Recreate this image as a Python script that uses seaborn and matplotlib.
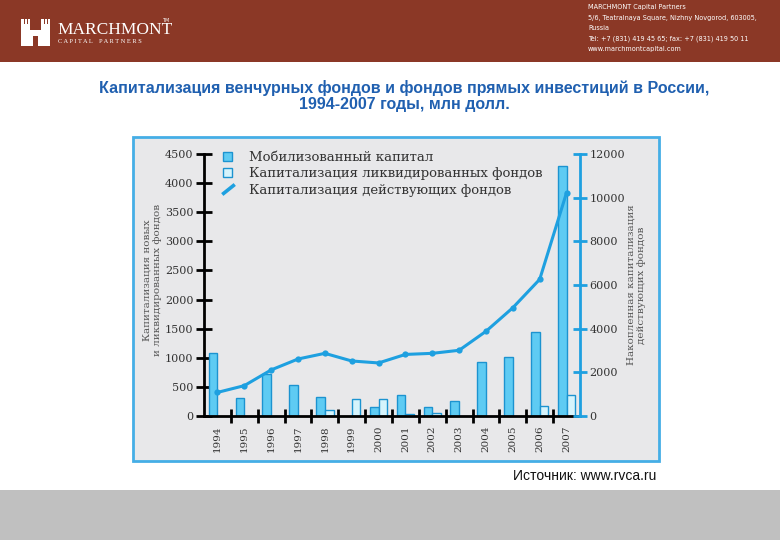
import numpy as np
import pandas as pd
import seaborn as sns
import matplotlib.pyplot as plt
from matplotlib.patches import Rectangle, Patch
from matplotlib.lines import Line2D
from matplotlib.path import Path
from matplotlib.ticker import FixedLocator

# ------------------------------------------------------------
# Data
# ------------------------------------------------------------
years = [str(y) for y in range(1994, 2008)]
mobilized = [1080, 310, 720, 530, 330, 0, 150, 360, 150, 250, 930, 1010, 1440, 4300]
liquidated = [0, 0, 0, 0, 100, 300, 290, 40, 50, 0, 0, 0, 170, 360]
active = [1080, 1390, 2110, 2610, 2870, 2520, 2430, 2820, 2870, 3010, 3880, 4960, 6260, 10230]

left_ticks = list(range(0, 4501, 500))
right_ticks = list(range(0, 12001, 2000))

series_names = [
    "Мобилизованный капитал",
    "Капитализация ликвидированных фондов",
    "Капитализация действующих фондов",
]
title = ("Капитализация венчурных фондов и фондов прямых инвестиций в России,\n"
         "1994-2007 годы, млн долл.")
left_label = "Капитализация новых\nи ликвидированных фондов"
right_label = "Накопленная капитализация\nдействующих фондов"
source = "Источник: www.rvca.ru"
header_lines = [
    "MARCHMONT Capital Partners",
    "5/6, Teatralnaya Square, Nizhny Novgorod, 603005,",
    "Russia",
    "Tel: +7 (831) 419 45 65; fax: +7 (831) 419 50 11",
    "www.marchmontcapital.com",
]

# colours
BROWN = "#8b3826"
MOB_FILL = "#5ecbf3"
LIQ_FILL = "#d6f4fc"
BAR_EDGE = "#1c93d0"
LINE_BLUE = "#1ea0e0"
TITLE_BLUE = "#2060b0"


def fx(px):
    return px / 780


def fy(py):
    return 1 - py / 540


sns.set_theme(style="white")
plt.rcParams["font.family"] = ["DejaVu Serif"]

fig = plt.figure(figsize=(7.8, 5.4), dpi=100)

# ------------------------------------------------------------
# Header / footer decoration
# ------------------------------------------------------------
fig.add_artist(Rectangle((0, fy(62)), 1, 62 / 540, transform=fig.transFigure,
                         fc=BROWN, ec="none", zorder=-2))
fig.add_artist(Rectangle((0, 0), 1, 50 / 540, transform=fig.transFigure,
                         fc="#c0c0c0", ec="none", zorder=-2))
fig.add_artist(Rectangle((fx(133), fy(461)), 526 / 780, 324 / 540,
                         transform=fig.transFigure, fc="#e8e8ea", ec="#45aee6",
                         lw=2, zorder=-1))

# castle logo, simple blocks
for (x0, y0, w, h) in [(21, 24, 9, 22), (41, 24, 9, 22), (30, 30, 11, 16),
                       (21, 19, 2.5, 5), (24.5, 19, 2.5, 5), (27.5, 19, 2.5, 5),
                       (41, 19, 2.5, 5), (44.5, 19, 2.5, 5), (47.5, 19, 2.5, 5)]:
    fig.add_artist(Rectangle((fx(x0), fy(y0 + h)), w / 780, h / 540,
                             transform=fig.transFigure, fc="white", ec="none"))
fig.add_artist(Rectangle((fx(33), fy(46)), 5 / 780, 10 / 540,
                         transform=fig.transFigure, fc=BROWN, ec="none"))
fig.text(fx(57), fy(30), "MARCHMONT", color="white", fontsize=12.5,
         family="Liberation Serif", va="center", ha="left")
fig.text(fx(58), fy(41.5), "C A P I T A L    P A R T N E R S", color="white",
         fontsize=4.6, family="Liberation Serif", va="center", ha="left")
fig.text(fx(162), fy(21), "TM", color="white", fontsize=3.5,
         family="DejaVu Sans", va="center", ha="left")

for i, line in enumerate(header_lines):
    fig.text(fx(588), fy(7.5 + i * 10.3), line, color="white", fontsize=4.7,
             family="DejaVu Sans", va="center", ha="left")

fig.text(fx(404), fy(96), title, color=TITLE_BLUE, fontsize=11.5,
         fontweight="bold", family="Liberation Sans", ha="center", va="center",
         linespacing=1.15)
fig.text(fx(656), fy(476), source, color="#111111", fontsize=10,
         family="Liberation Sans", ha="right", va="center")

# ------------------------------------------------------------
# Chart
# ------------------------------------------------------------
ax = fig.add_axes([fx(204), fy(416), (580 - 204) / 780, (416 - 154) / 540])
ax.set_facecolor("none")

df = pd.DataFrame({
    "year": years * 2,
    "value": mobilized + liquidated,
    "series": [series_names[0]] * len(years) + [series_names[1]] * len(years),
})
df = df[df["value"] > 0]

sns.barplot(data=df, x="year", y="value", hue="series", order=years,
            hue_order=series_names[:2], palette=[MOB_FILL, LIQ_FILL],
            width=0.65, dodge=True, edgecolor=BAR_EDGE, linewidth=1,
            saturation=1, legend=False, ax=ax)

ax2 = ax.twinx()
ax2.set_facecolor("none")
sns.lineplot(x=np.arange(len(years)), y=active, ax=ax2, color=LINE_BLUE,
             linewidth=2.2, marker="o", markersize=4.5, markeredgewidth=0)

ax.set_xlim(-0.5, len(years) - 0.5)
ax.set_ylim(0, 4500)
ax2.set_ylim(0, 12000)
ax.set_yticks(left_ticks)
ax2.set_yticks(right_ticks)
ax.set_xticks(range(len(years)))
ax.set_xticklabels(years, rotation=90)
ax.xaxis.set_minor_locator(FixedLocator(np.arange(0.5, len(years) - 1, 1)))
ax.set_xlabel("")
ax.set_ylabel("")
ax2.set_xlabel("")
ax2.set_ylabel("")

for side in ["top", "right"]:
    ax.spines[side].set_visible(False)
for side in ["top", "left", "bottom"]:
    ax2.spines[side].set_visible(False)
ax.spines["left"].set_linewidth(2)
ax.spines["left"].set_color("black")
ax.spines["bottom"].set_linewidth(2)
ax.spines["bottom"].set_color("black")
ax2.spines["right"].set_linewidth(2)
ax2.spines["right"].set_color(LINE_BLUE)

ax.tick_params(axis="y", direction="inout", length=11, width=2, color="black",
               labelsize=8, labelcolor="#333333", pad=2, left=True)
ax.tick_params(axis="x", which="major", length=0, labelsize=7.5,
               labelcolor="#333333", pad=7)
ax.tick_params(axis="x", which="minor", direction="inout", length=10, width=2,
               color="black", bottom=True)
ax2.tick_params(axis="y", direction="inout", length=10, width=2,
                color=LINE_BLUE, labelsize=8, labelcolor="#333333", pad=2,
                right=True)

fig.text(fx(152), fy(280), left_label, rotation=90, ha="center", va="center",
         fontsize=7.5, color="#555555", linespacing=1.15)
fig.text(fx(636), fy(285), right_label, rotation=90, ha="center", va="center",
         fontsize=7.5, color="#555555", linespacing=1.15)

diag = Path([(-1, -0.8), (1, 0.8)], [Path.MOVETO, Path.LINETO])
handles = [
    Patch(facecolor=MOB_FILL, edgecolor=BAR_EDGE, linewidth=1),
    Patch(facecolor=LIQ_FILL, edgecolor=BAR_EDGE, linewidth=1),
    Line2D([], [], linestyle="none", marker=diag, markersize=9,
           markeredgewidth=2.6, color=LINE_BLUE),
]
fig.legend(handles, series_names, loc="upper left",
           bbox_to_anchor=(fx(223), fy(151)), frameon=False, fontsize=9.5,
           handlelength=0.7, handleheight=0.7, handletextpad=1.3,
           labelspacing=0.25, borderpad=0, borderaxespad=0,
           labelcolor="#333333")

fig.savefig("out.png", dpi=100)
